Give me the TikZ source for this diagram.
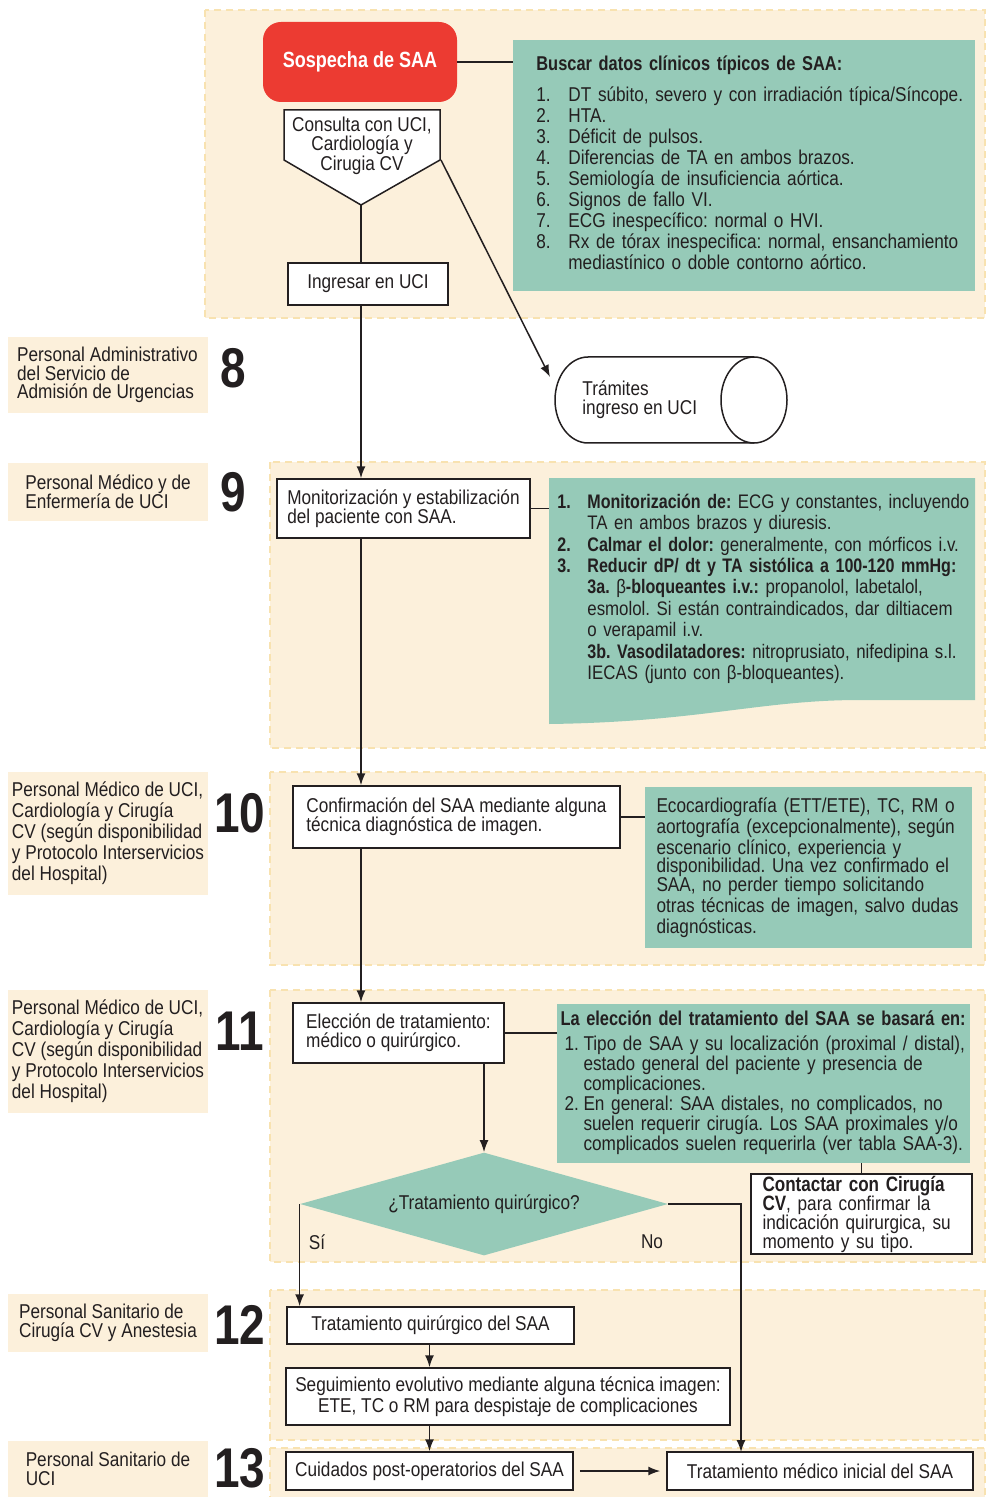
\documentclass[tikz,border=0pt]{standalone}
\usepackage{fontspec}
\setmainfont{Liberation Sans}[FakeStretch=0.86, BoldFeatures={FakeStretch=0.82}]
\usetikzlibrary{arrows.meta,shapes.geometric}

\definecolor{peach}{RGB}{252,240,219}
\definecolor{peachline}{RGB}{248,226,176}
\definecolor{mint}{RGB}{150,202,184}
\definecolor{alarm}{RGB}{236,59,50}
\definecolor{ink}{RGB}{35,31,32}

\newcommand{\txt}[1]{\fontsize{10}{#1}\selectfont\frenchspacing}

\tikzset{
  zone/.style={fill=peach, draw=peachline, line width=1pt, dash pattern=on 3.5pt off 2.5pt},
  who/.style={fill=peach, minimum width=100pt, align=left, inner sep=0pt, text=ink},
  num/.style={font=\fontsize{28}{28}\selectfont\bfseries, inner sep=0pt, text=ink},
  box/.style={draw=ink, line width=0.75pt, fill=white, inner sep=0pt, text=ink},
  note/.style={fill=mint, align=left, inner sep=0pt, text=ink},
  link/.style={draw=ink, line width=0.75pt},
  arr/.style={link, -{Latex[length=6pt,width=4.5pt]}}
}

\begin{document}
\begin{tikzpicture}[x=0.5pt, y=-0.5pt, font=\txt{10.5}]
\useasboundingbox (0,0) rectangle (986,1497);

%Zones
\draw[zone] (205,10) rectangle (985,318);
\draw[zone] (270,462) rectangle (985,748);
\draw[zone] (270,772) rectangle (985,965);
\draw[zone] (270,990) rectangle (985,1262);
\draw[zone] (270,1290) rectangle (985,1440);
\draw[zone] (270,1448) rectangle (985,1510);

%Who does it
\node[who, minimum height=38pt, font=\txt{9.3}] (who8) at (107.5,375) {Personal Administrativo\\del Servicio de\\Admisión de Urgencias};
\node[who, minimum height=29pt, font=\txt{9.5}] (who9) at (108,492) {Personal Médico y de\\Enfermería de UCI};
\node[who, minimum height=61.5pt] (who10) at (108,833.5) {Personal Médico de UCI,\\Cardiología y Cirugía\\CV (según disponibilidad\\y Protocolo Interservicios\\del Hospital)};
\node[who, minimum height=61.5pt] (who11) at (108,1051.5) {Personal Médico de UCI,\\Cardiología y Cirugía\\CV (según disponibilidad\\y Protocolo Interservicios\\del Hospital)};
\node[who, minimum height=29pt, font=\txt{9.5}] (who12) at (108,1323) {Personal Sanitario de\\Cirugía CV y Anestesia};
\node[who, minimum height=28pt, font=\txt{9.2}] (who13) at (108,1469) {Personal Sanitario de\\UCI};

%Step numbers
\node[num] (n8) at (233,368) {8};
\node[num] (n9) at (233,492) {9};
\node[num] (n10) at (240,813) {10};
\node[num] (n11) at (240,1031) {11};
\node[num] (n12) at (240,1325) {12};
\node[num] (n13) at (240,1468) {13};

%Suspicion
\node[fill=alarm, rounded corners=9pt, minimum width=97pt, minimum height=40pt, text=white, font=\fontsize{11}{11}\selectfont\bfseries] (sospecha) at (360,62) {Sospecha de SAA};
\draw[box] (284,110) -- (440,110) -- (440,160) -- (361,205) -- (284,160) -- cycle;
\node[align=center, inner sep=0pt, text=ink, font=\txt{9.3}] (consulta) at (362,146) {Consulta con UCI,\\Cardiología y\\Cirugia CV};
\coordinate (consulta-tip) at (361,205);
\coordinate (consulta-se) at (441,160);

\node[note, anchor=north west, minimum width=231pt, minimum height=125.5pt, text width=208pt, inner xsep=11.5pt] (datos) at (513,40) {%
{\bfseries Buscar datos clínicos típicos de SAA:}\\[5pt]
\begin{tabular}{@{}p{16pt}@{}l@{}}
1. & DT súbito, severo y con irradiación típica/Síncope.\\
2. & HTA.\\
3. & Déficit de pulsos.\\
4. & Diferencias de TA en ambos brazos.\\
5. & Semiología de insuficiencia aórtica.\\
6. & Signos de fallo VI.\\
7. & ECG inespecífico: normal o HVI.\\
8. & Rx de tórax inespecifica: normal, ensanchamiento\\
   & mediastínico o doble contorno aórtico.
\end{tabular}};

\node[box, minimum width=80pt, minimum height=21pt] (ingresar) at (368,284) {Ingresar en UCI};

%Admission paperwork
\draw[box] (754,357) -- (588,357) arc[start angle=90, end angle=270, x radius=16.5pt, y radius=21.5pt] -- (754,443);
\draw[box] (754,400) ellipse [x radius=16.5pt, y radius=21.5pt];
\node[anchor=west, align=left, inner sep=0pt, text=ink, font=\txt{9.5}] (tramites) at (582,400) {Trámites\\ingreso en UCI};
\coordinate (tramites-in) at (550,377);

%Monitoring
\fill[mint] (549,478) -- (975,478) -- (975,700) -- (860,700) .. controls (760,700) and (700,722) .. (549,724) -- cycle;
\node[note, fill=none, anchor=north west, text width=205pt, inner xsep=4pt, inner ysep=7.5pt, font=\fontsize{9.8}{10.7}\selectfont\frenchspacing] (medidas) at (549,478) {%
\begin{tabular}{@{}p{15pt}@{}l@{}}
\textbf{1.} & \textbf{Monitorización de:} ECG y constantes, incluyendo\\
 & TA en ambos brazos y diuresis.\\
\textbf{2.} & \textbf{Calmar el dolor:} generalmente, con mórficos i.v.\\
\textbf{3.} & \textbf{Reducir dP/ dt y TA sistólica a 100-120 mmHg:}\\
 & \textbf{3a.} β\textbf{-bloqueantes i.v.:} propanolol, labetalol,\\
 & esmolol. Si están contraindicados, dar diltiacem\\
 & o verapamil i.v.\\
 & \textbf{3b. Vasodilatadores:} nitroprusiato, nifedipina s.l.\\
 & IECAS (junto con β-bloqueantes).
\end{tabular}};
\node[box, minimum width=126.5pt, minimum height=29.5pt, align=left, font=\txt{9.5}] (monitor) at (403.5,508.5) {Monitorización y estabilización\\del paciente con SAA.};

%Confirmation
\node[box, minimum width=163.5pt, minimum height=31pt, align=left, font=\txt{9.5}] (confirma) at (456.5,817) {Confirmación del SAA mediante alguna\\técnica diagnóstica de imagen.};
\node[note, minimum width=163.5pt, minimum height=80.5pt, text width=152pt, font=\txt{9.35}] (imagen) at (808.5,867.5) {Ecocardiografía (ETT/ETE), TC, RM o\\aortografía (excepcionalmente), según\\escenario clínico, experiencia y\\disponibilidad. Una vez confirmado el\\SAA, no perder tiempo solicitando\\otras técnicas de imagen, salvo dudas\\diagnósticas.};

%Choice of treatment
\node[box, minimum width=105.5pt, minimum height=30pt, align=left, font=\txt{9.5}] (eleccion) at (398.5,1033) {Elección de tratamiento:\\médico o quirúrgico.};
\node[note, minimum width=206.5pt, minimum height=79.5pt, text width=203pt, font=\txt{9.4}] (criterios) at (763.5,1083.5) {%
{\bfseries La elección del tratamiento del SAA se basará en:}\\[4pt]
\begin{tabular}{@{\hspace{2pt}}p{9.5pt}@{}l@{}}
1. & Tipo de SAA y su localización (proximal / distal),\\
   & estado general del paciente y presencia de\\
   & complicaciones.\\
2. & En general: SAA distales, no complicados, no\\
   & suelen requerir cirugía. Los SAA proximales y/o\\
   & complicados suelen requerirla (ver tabla SAA-3).
\end{tabular}};
\node[box, minimum width=110.5pt, minimum height=40pt, text width=99pt, align=left, font=\txt{9.5}] (contactar) at (861.5,1214) {{\fontsize{10.4}{9.5}\selectfont\bfseries Contactar con Cirugía}\\{\fontsize{10.4}{9.5}\selectfont\bfseries CV}, para confirmar la\\indicación quirurgica, su\\momento y su tipo.};
\node[diamond, fill=mint, aspect=3.6, minimum width=184pt, minimum height=51.5pt, inner sep=0pt, text=ink] (decision) at (484,1204) {¿Tratamiento quirúrgico?};
\node[inner sep=0pt, text=ink] (si) at (317,1242) {Sí};
\node[inner sep=0pt, text=ink] (no) at (652,1242) {No};

%Surgery and follow-up
\node[box, minimum width=143.5pt, minimum height=18.5pt] (quirurgico) at (430.5,1325.5) {Tratamiento quirúrgico del SAA};
\node[box, minimum width=222pt, minimum height=28.5pt, align=center] (seguimiento) at (508,1396.5) {Seguimiento evolutivo mediante alguna técnica imagen:\\ETE, TC o RM para despistaje de complicaciones};
\node[box, minimum width=143.5pt, minimum height=19pt] (cuidados) at (429.5,1471) {Cuidados post-operatorios del SAA};
\node[box, minimum width=153pt, minimum height=19pt] (medico) at (820,1471) {Tratamiento médico inicial del SAA};
\coordinate (no-drop) at (741,1452);

%Connectors
\draw[link] (sospecha.east) -- (sospecha.east -| datos.west);
\draw[link] (consulta-tip) -- (consulta-tip |- ingresar.north);
\draw[arr] (consulta-se) -- (tramites-in);
\draw[arr] (consulta-tip |- ingresar.south) -- (consulta-tip |- monitor.north);
\draw[link] (monitor.east) -- (monitor.east -| medidas.west);
\draw[arr] (consulta-tip |- monitor.south) -- (consulta-tip |- confirma.north);
\draw[link] (confirma.east) -- (confirma.east -| imagen.west);
\draw[arr] (consulta-tip |- confirma.south) -- (consulta-tip |- eleccion.north);
\draw[link] (eleccion.east) -- (eleccion.east -| criterios.west);
\draw[link] (contactar.north) -- (contactar.north |- criterios.south);
\draw[arr] (decision.north |- eleccion.south) -- (decision.north);
\draw[arr] (decision.west) -- (decision.west |- quirurgico.north);
\draw[arr] (decision.east) -| (no-drop);
\draw[arr] (cuidados.north |- quirurgico.south) -- (cuidados.north |- seguimiento.north);
\draw[arr] (cuidados.north |- seguimiento.south) -- (cuidados.north);
\draw[arr, shorten <=3pt, shorten >=3pt] (cuidados.east) -- (medico.west);
\end{tikzpicture}
\end{document}
